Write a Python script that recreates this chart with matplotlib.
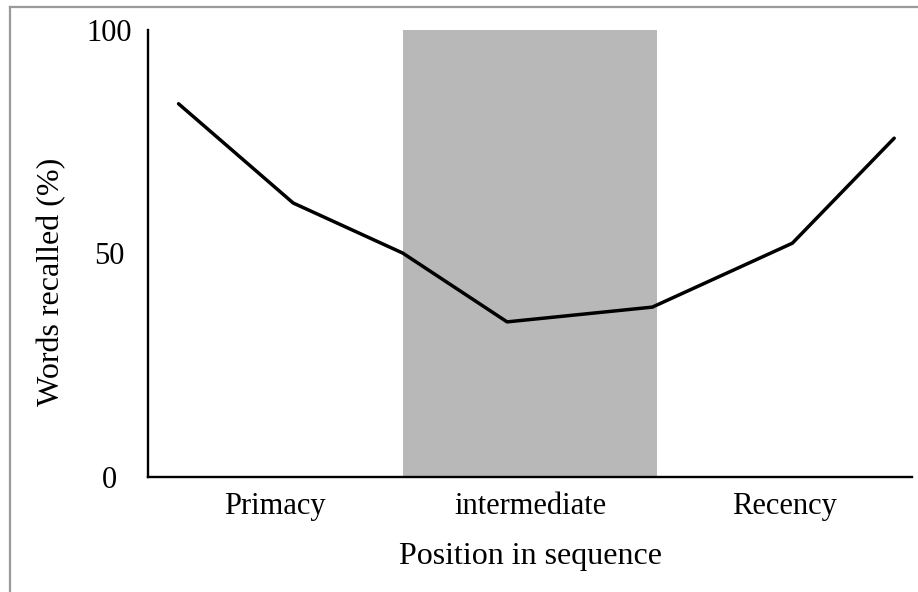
import matplotlib
matplotlib.use("Agg")
import matplotlib.pyplot as plt
from matplotlib.lines import Line2D

# serial position curve data
positions = [0.12, 0.57, 1.0, 1.41, 1.98, 2.53, 2.93]
recalled = [83.5, 61.3, 50.1, 34.7, 38.0, 52.3, 75.8]
categories = ["Primacy", "intermediate", "Recency"]
cat_pos = [0.5, 1.5, 2.5]
y_ticks = [0, 50, 100]
shade_start, shade_end = 1.0, 2.0

plt.rcParams['font.family'] = ['Liberation Serif', 'DejaVu Serif']

fig = plt.figure(figsize=(9.18, 5.92), dpi=100)
ax = fig.add_axes([0.1612, 0.1943, 0.8323, 0.755])

ax.axvspan(shade_start, shade_end, color="#b8b8b8", lw=0, zorder=0)
ax.plot(positions, recalled, color="black", lw=2.5, solid_capstyle="round", zorder=3)

ax.set_xlim(0, 3)
ax.set_ylim(0, 100)
ax.set_xticks(cat_pos)
ax.set_xticklabels(categories, fontsize=22)
ax.set_yticks(y_ticks)
ax.set_yticklabels([str(v) for v in y_ticks], fontsize=22, ha="center")
ax.tick_params(axis="x", length=0, pad=11)
ax.tick_params(axis="y", length=0, pad=28)

ax.set_xlabel("Position in sequence", fontsize=23, labelpad=15)
ax.set_ylabel("Words recalled (%)", fontsize=23)
ax.yaxis.set_label_coords(-0.107, 0.436)

for s in ["top", "right"]:
    ax.spines[s].set_visible(False)
for s in ["left", "bottom"]:
    ax.spines[s].set_linewidth(1.7)
    ax.spines[s].set_color("black")

# grey frame around the picture (left and top edges)
fig.add_artist(Line2D([10/918, 10/918], [0, 1 - 7/592], color="#9a9a9a", lw=1.6))
fig.add_artist(Line2D([10/918, 1], [1 - 7/592, 1 - 7/592], color="#9a9a9a", lw=1.6))

fig.savefig("out.png", dpi=100)
